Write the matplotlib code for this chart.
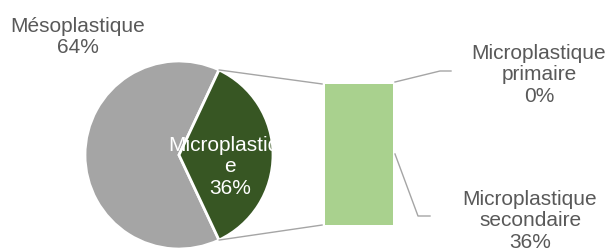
import numpy as np
import matplotlib
matplotlib.use("Agg")
import matplotlib.pyplot as plt
from matplotlib.patches import ConnectionPatch
from matplotlib.lines import Line2D

plt.rcParams['font.family'] = ['Liberation Sans', 'DejaVu Sans']

# pie data
pie_labels = ["Mésoplastique", "Microplastique"]
pie_values = [64, 36]
pie_colors = ["#A5A5A5", "#375623"]

# bar (breakdown of Microplastique)
bar_labels = ["Microplastique\nsecondaire", "Microplastique\nprimaire"]
bar_values = [36, 0]
bar_color = "#A9D18E"

W, H = 609, 251
TXT = "#595959"
LINE = "#A5A5A5"
FS = 15
LS = 1.18

fig = plt.figure(figsize=(W / 100, H / 100), dpi=100)


def fbox(x0, y0, x1, y1):
    # pixel box (top-left origin) -> figure fraction rect
    return [x0 / W, 1 - y1 / H, (x1 - x0) / W, (y1 - y0) / H]


def fpt(x, y):
    return x / W, 1 - y / H


# pie
cx, cy, r = 179, 156, 94
ax_pie = fig.add_axes(fbox(cx - r, cy - r, cx + r, cy + r))
half = pie_values[1] / sum(pie_values) * 180
wedges, _ = ax_pie.pie(pie_values, colors=pie_colors, startangle=half,
                       counterclock=True,
                       wedgeprops=dict(edgecolor="white", linewidth=2))
ax_pie.set_xlim(-1, 1)
ax_pie.set_ylim(-1, 1)
ax_pie.set_aspect("equal")
ax_pie.axis("off")

# bar
ax_bar = fig.add_axes(fbox(325, 85, 393, 226))
bottom = 0
for v in bar_values:
    ax_bar.bar(0, v, width=1, bottom=bottom, color=bar_color)
    bottom += v
total = sum(bar_values)
ax_bar.set_xlim(-0.5, 0.5)
ax_bar.set_ylim(0, total)
ax_bar.axis("off")

# connectors between the wedge and the bar
th = np.radians(half)
for sgn, yb in [(1, total), (-1, 0)]:
    con = ConnectionPatch(xyA=(np.cos(th), sgn * np.sin(th)), coordsA=ax_pie.transData,
                          xyB=(-0.54, yb), coordsB=ax_bar.transData,
                          color=LINE, linewidth=1)
    fig.add_artist(con)

# labels
fig.text(*fpt(78, 37), f"{pie_labels[0]}\n{pie_values[0]}%", color=TXT,
         fontsize=FS, ha="center", va="center", linespacing=LS)
fig.text(*fpt(230, 167), "Microplastiqu\ne\n%d%%" % pie_values[1], color="white",
         fontsize=FS, ha="center", va="center", linespacing=LS)
fig.text(*fpt(539, 75), f"{bar_labels[1]}\n{bar_values[1]}%", color=TXT,
         fontsize=FS, ha="center", va="center", linespacing=LS)
fig.text(*fpt(530, 221), f"{bar_labels[0]}\n{bar_values[0]}%", color=TXT,
         fontsize=FS, ha="center", va="center", linespacing=LS)

# leader lines
for pts in ([(395, 83), (440, 72), (451, 72)], [(395, 155), (418, 217), (430, 217)]):
    xs, ys = zip(*[fpt(x, y) for x, y in pts])
    fig.add_artist(Line2D(xs, ys, color=LINE, linewidth=1, transform=fig.transFigure))

fig.savefig("out.png", dpi=100)
